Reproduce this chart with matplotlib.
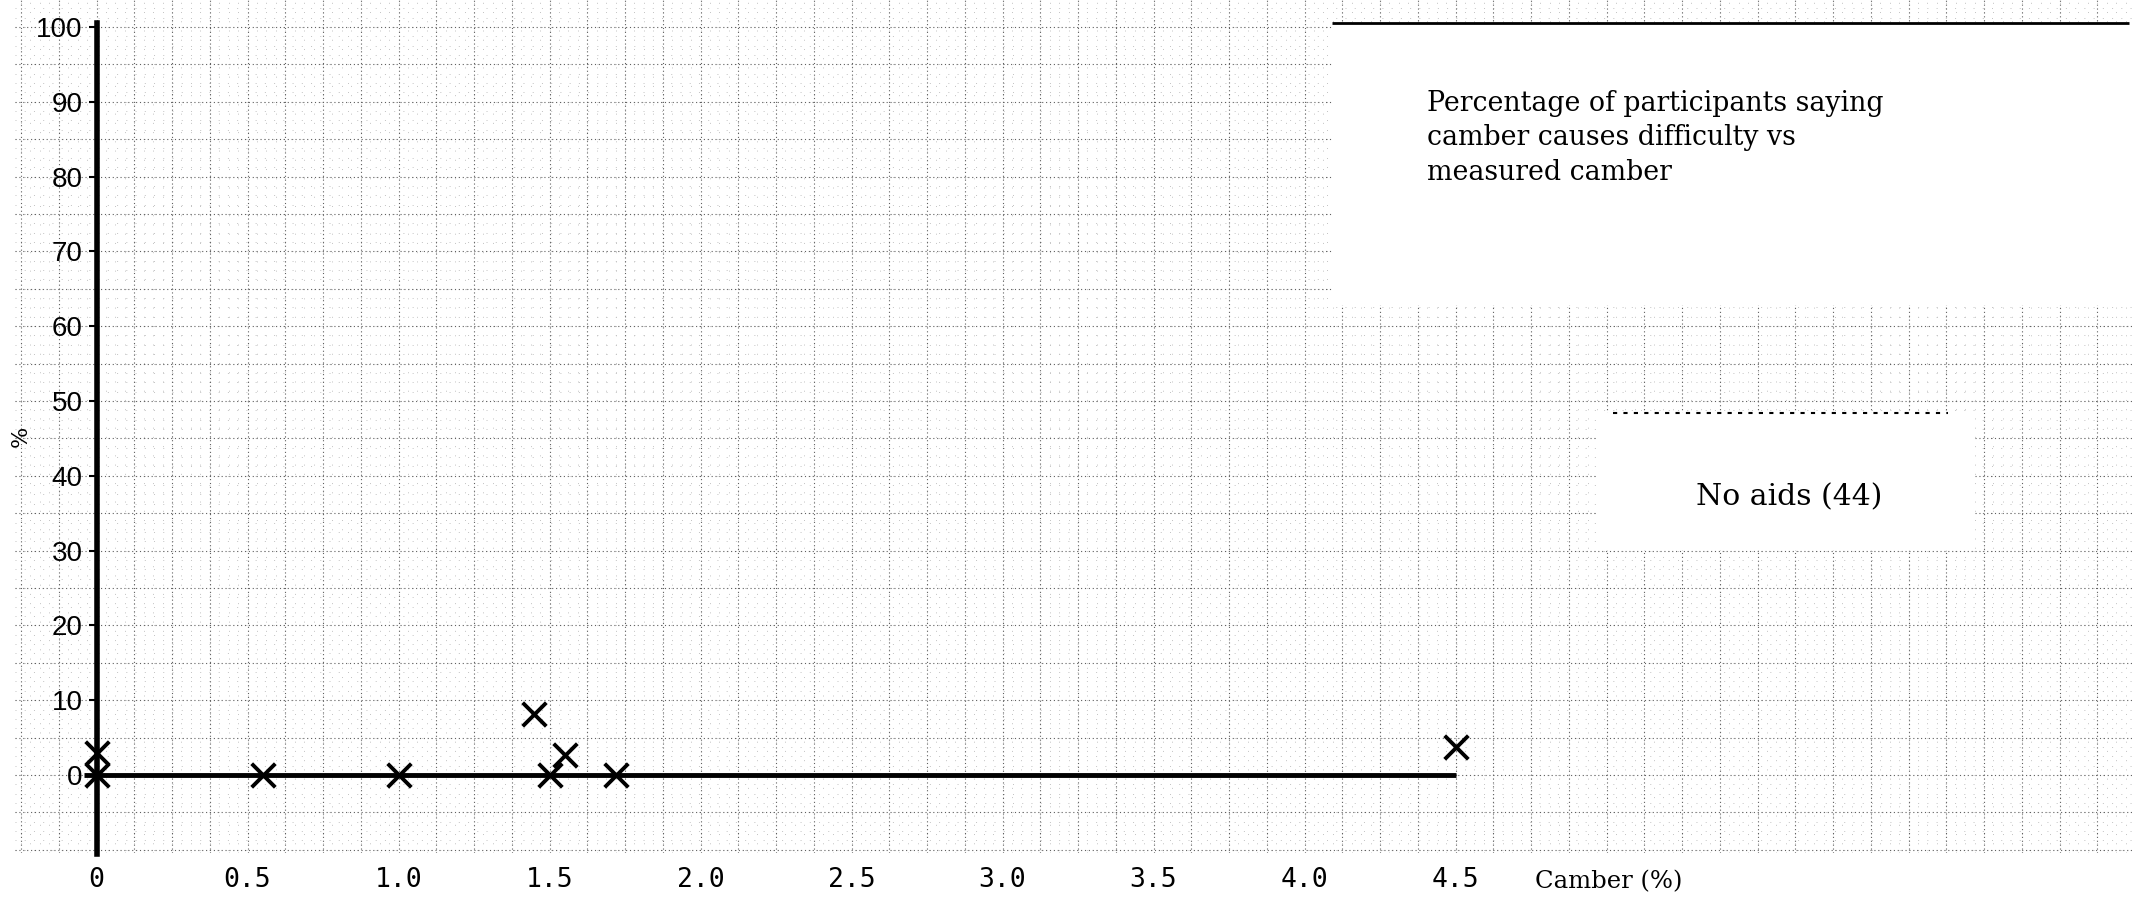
import numpy as np
import matplotlib.pyplot as plt
from matplotlib.patches import Rectangle

# data
camber = [0, 0, 0.55, 1.0, 1.45, 1.5, 1.55, 1.72, 4.5]
pct_difficulty = [0, 3, 0, 0, 8.2, 0, 2.7, 0, 3.8]

x_ticks = [0, 0.5, 1.0, 1.5, 2.0, 2.5, 3.0, 3.5, 4.0, 4.5]
x_labels = ["0", "0.5", "1.0", "1.5", "2.0", "2.5", "3.0", "3.5", "4.0", "4.5"]
y_ticks = [0, 10, 20, 30, 40, 50, 60, 70, 80, 90, 100]

title_lines = ["Percentage of participants saying",
               "camber causes difficulty vs",
               "measured camber"]
group_text = "No aids (44)"

plt.rcParams['font.family'] = 'DejaVu Sans Mono'
typewriter = 'DejaVu Serif'

W, H = 2132, 906
fig = plt.figure(figsize=(W / 100, H / 100), dpi=100)
ax = fig.add_axes([15 / W, 53 / H, (W - 15) / W, 853 / H])
ax.set_xlim(-0.270, 6.740)
ax.set_ylim(-10.43, 103.6)

# graph paper
for x in np.arange(-0.25, 6.75, 0.03125):
    ax.axvline(x, color='#c2c2c2', lw=0.7, ls=(0, (1, 8.5)), zorder=0)
for y in np.arange(-10, 104, 1.25):
    ax.axhline(y, color='#c2c2c2', lw=0.7, ls=(0, (1, 8.5)), zorder=0)
for x in np.arange(-0.25, 6.75, 0.125):
    ax.axvline(x, color='#606060', lw=0.8, ls=(0, (1, 2.5)), zorder=0.5)
for y in np.arange(-10, 104, 5):
    ax.axhline(y, color='#606060', lw=0.8, ls=(0, (1, 2.5)), zorder=0.5)

# pasted label boxes
ax.add_patch(Rectangle((4.09, 62.8), 3.0, 37.7, facecolor='white', edgecolor='none', zorder=1))
ax.plot([4.09, 6.73], [100.5, 100.5], color='black', lw=2, zorder=2, solid_capstyle='butt')
for i, line in enumerate(title_lines):
    ax.text(4.405, 88.8 - 4.6 * i, line, family=typewriter, fontsize=19.3,
            va='baseline', ha='left', zorder=3)

ax.add_patch(Rectangle((4.969, 30.1), 1.251, 18.3, facecolor='white', edgecolor='none', zorder=1))
ax.plot([5.02, 6.13], [48.4, 48.4], color='black', lw=1.5, ls=(0, (2, 3)), zorder=2)
ax.text(5.604, 36.0, group_text, family=typewriter, fontsize=21.5, ha='center', va='baseline',
        zorder=3)

# axes
ax.plot([-0.04, 4.5], [0, 0], color='black', lw=3.5, zorder=2, solid_capstyle='butt')
ax.spines['left'].set_position(('data', 0))
ax.spines['left'].set_bounds(-10.5, 100.5)
ax.spines['left'].set_linewidth(4)
for s in ['top', 'right', 'bottom']:
    ax.spines[s].set_visible(False)

ax.set_yticks(y_ticks, [str(v) for v in y_ticks], fontfamily='Liberation Sans')
ax.tick_params(axis='y', direction='out', length=6, width=1.5, pad=4, labelsize=20)
ax.set_xticks(x_ticks, x_labels)
ax.tick_params(axis='x', length=0, pad=10, labelsize=19)

ax.scatter(camber, pct_difficulty, marker='x', s=17 ** 2, linewidths=2.8, color='black', zorder=4)

ax.text(4.763, -15.2, "Camber (%)", family=typewriter, fontsize=17.5, va='baseline', ha='left',
        clip_on=False)
ax.text(-0.286, 45.2, "%", family=typewriter, fontsize=16, rotation=90, va='center', ha='left',
        clip_on=False)

fig.savefig("out.png", dpi=100)
